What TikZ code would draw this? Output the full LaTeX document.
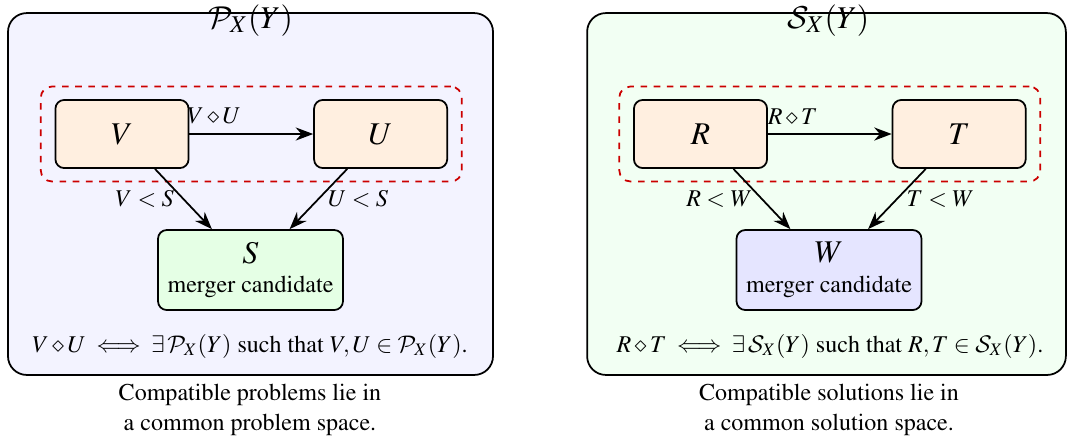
\documentclass[tikz,11pt,border=0pt]{standalone}
\usepackage[T1]{fontenc}
\usepackage{mathptmx}
\DeclareMathAlphabet{\mathcal}{OMS}{cmsy}{m}{n}
\usetikzlibrary{arrows.meta,positioning,fit}
\definecolor{probbg}{HTML}{F3F3FF}
\definecolor{solbg}{HTML}{F2FFF3}
\definecolor{itemfill}{HTML}{FFEFE0}
\definecolor{mergegreen}{HTML}{E5FFE5}
\definecolor{mergeblue}{HTML}{E5E5FF}
\definecolor{groupred}{HTML}{CC0000}
\tikzset{
  space/.style={draw,thick,rounded corners=3mm,minimum height=5.79cm},
  spacetitle/.style={font=\Large,inner sep=0pt},
  item/.style={draw,thick,fill=itemfill,rounded corners=4pt,
    minimum width=2.13cm,minimum height=1.09cm,font=\Large},
  merge/.style={draw,thick,rounded corners=4pt,align=center,
    minimum width=2.96cm,minimum height=1.28cm},
  group/.style={draw=groupred,thick,dashed,rounded corners=5pt,
    inner xsep=0.22cm,inner ysep=0.2cm},
  arrow/.style={-{Stealth[length=2.8mm]},thick},
  labelstyle/.style={inner sep=2pt}
}

\begin{document}
\begin{tikzpicture}[node distance=1.98cm]
  \useasboundingbox (0,0) rectangle (17.072,-7.024);
  % problem space
  \node[space,fill=probbg,minimum width=7.76cm] (pspace) at (4.008,-3.104) {};
  \node[spacetitle] (ptitle) at ([yshift=-0.13cm]pspace.north) {$\mathcal{P}_X(Y)$};
  \node[item] (V) at (1.952,-2.144) {$V$};
  \node[item,right=of V] (U) {$U$};
  \node[group,fit=(V)(U)] (pgroup) {};
  \node[merge,fill=mergegreen] (S) at (4.008,-4.32) {{\Large $S$}\\merger candidate};
  \draw[arrow] (V) -- node[labelstyle,pos=0.2,above=2pt] {$V \diamond U$} (U);
  \draw[arrow] (V) -- node[labelstyle,left=2pt] {$V < S$} (S);
  \draw[arrow] (U) -- node[labelstyle,right=2pt] {$U < S$} (S);
  \node (pform) at (4.0,-5.54) {$V \diamond U \iff \exists\,\mathcal{P}_X(Y)$ such that $V, U \in \mathcal{P}_X(Y)$.};
  \node[align=center] (pcap) at (4.0,-6.56) {Compatible problems lie in\\a common problem space.};

  % solution space
  \node[space,fill=solbg,minimum width=7.66cm] (sspace) at (13.224,-3.104) {};
  \node[spacetitle] (stitle) at ([yshift=-0.13cm,xshift=0.03cm]sspace.north) {$\mathcal{S}_X(Y)$};
  \node[item] (R) at (11.208,-2.144) {$R$};
  \node[item,right=of R] (T) {$T$};
  \node[group,fit=(R)(T)] (sgroup) {};
  \node[merge,fill=mergeblue] (W) at (13.264,-4.32) {{\Large $W$}\\merger candidate};
  \draw[arrow] (R) -- node[labelstyle,pos=0.2,above=2pt] {$R \diamond T$} (T);
  \draw[arrow] (R) -- node[labelstyle,left=2pt] {$R < W$} (W);
  \draw[arrow] (T) -- node[labelstyle,right=2pt] {$T < W$} (W);
  \node (sform) at (13.28,-5.54) {$R \diamond T \iff \exists\,\mathcal{S}_X(Y)$ such that $R, T \in \mathcal{S}_X(Y)$.};
  \node[align=center] (scap) at (13.264,-6.56) {Compatible solutions lie in\\a common solution space.};
\end{tikzpicture}
\end{document}
